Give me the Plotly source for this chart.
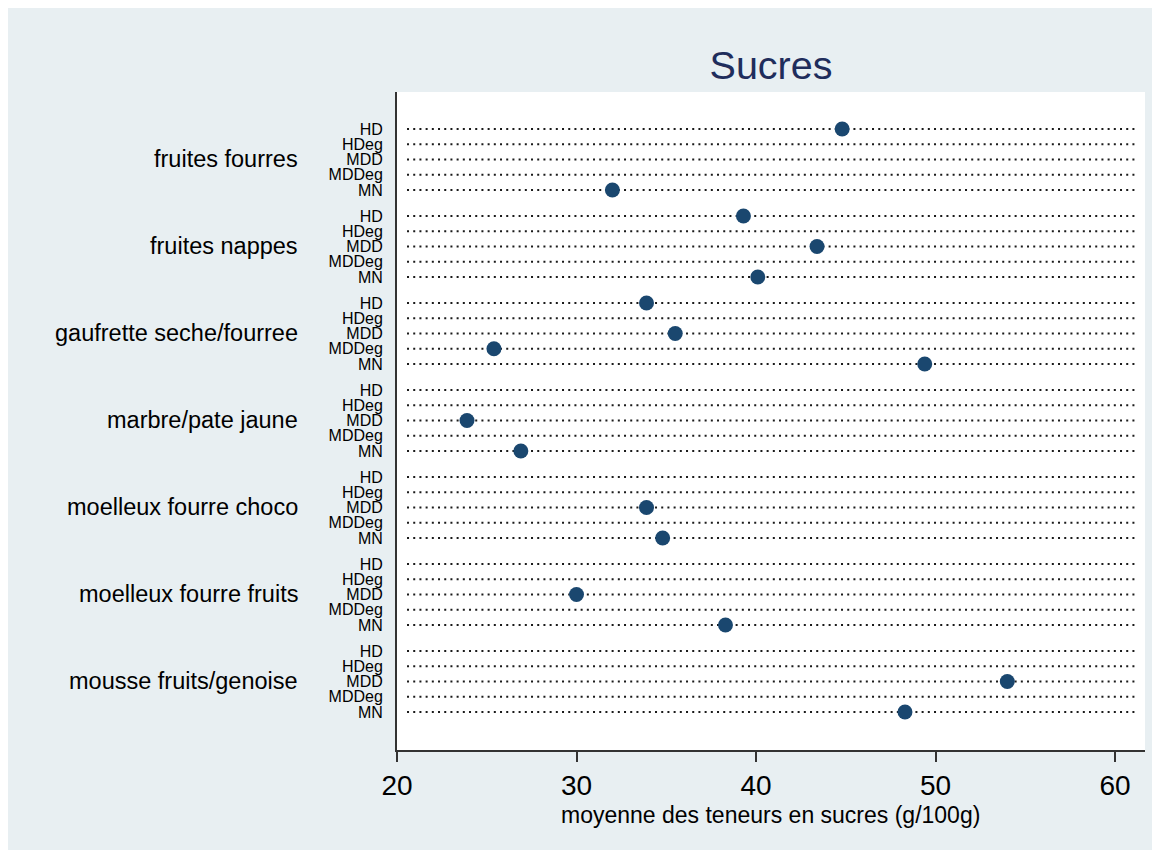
import plotly.graph_objects as go

# ---- data ----
groups = ["fruites fourres", "fruites nappes", "gaufrette seche/fourree",
          "marbre/pate jaune", "moelleux fourre choco", "moelleux fourre fruits",
          "mousse fruits/genoise"]
series = ["HD", "HDeg", "MDD", "MDDeg", "MN"]
# mean sugar content (g/100g); None = no value
values = {
    "fruites fourres":        [44.8, None, None, None, 32.0],
    "fruites nappes":         [39.3, None, 43.4, None, 40.1],
    "gaufrette seche/fourree": [33.9, None, 35.5, 25.4, 49.4],
    "marbre/pate jaune":      [None, None, 23.9, None, 26.9],
    "moelleux fourre choco":  [None, None, 33.9, None, 34.8],
    "moelleux fourre fruits": [None, None, 30.0, None, 38.3],
    "mousse fruits/genoise":  [None, None, 54.0, None, 48.3],
}
x_ticks = [20, 30, 40, 50, 60]
title_text = "Sucres"
x_title = "moyenne des teneurs en sucres (g/100g)"

# ---- layout helpers ----
GROUP_STEP = 5.7
pos, ticktext, xs, ys = [], [], [], []
for g, grp in enumerate(groups):
    for i, s in enumerate(series):
        p = g * GROUP_STEP + i
        pos.append(p)
        ticktext.append(s)
        v = values[grp][i]
        if v is not None:
            xs.append(v)
            ys.append(p)

span = (len(groups) - 1) * GROUP_STEP + len(series) - 1
FONT = "Liberation Sans, Arial, Helvetica, sans-serif"
NAVY = "#1a476f"

fig = go.Figure()
fig.add_trace(go.Scatter(
    x=xs, y=ys, mode="markers",
    marker=dict(color=NAVY, size=15, line=dict(width=0)),
    showlegend=False, hoverinfo="x+y",
))

shapes = []
# dotted guide lines for every row
for p in pos:
    shapes.append(dict(type="line", xref="paper", yref="y",
                       x0=0.0134, x1=0.9906, y0=p, y1=p,
                       line=dict(color="#1a1a1a", width=2, dash="2px,4.2px"),
                       layer="below"))

annotations = []
for g, grp in enumerate(groups):
    annotations.append(dict(
        text=grp, xref="paper", yref="y",
        x=(300 - 397) / 748, y=g * GROUP_STEP + 2,
        xanchor="right", yanchor="middle", showarrow=False,
        font=dict(family=FONT, size=23.5, color="black"),
    ))
annotations.append(dict(
    text=x_title, xref="paper", yref="paper",
    x=(770 - 397) / 748, y=(750 - 815) / 658,
    xanchor="center", yanchor="middle", showarrow=False,
    font=dict(family=FONT, size=23, color="black"),
))

fig.update_layout(
    width=1160, height=850,
    margin=dict(l=389, r=23, t=84, b=108, autoexpand=False),
    paper_bgcolor="#e8eff2",
    plot_bgcolor="white",
    title=dict(text=title_text, x=0.5, xref="paper", y=1 - 57 / 850,
               yanchor="middle", xanchor="center",
               font=dict(family=FONT, size=39.5, color="#1f2d5c")),
    xaxis=dict(range=[20, 20 + 748 / 17.95], tickvals=x_ticks,
               showgrid=False, zeroline=False,
               showline=True, linecolor="#333333", linewidth=1.5,
               ticks="outside", ticklen=10, tickwidth=1.5, tickcolor="#333333",
               tickfont=dict(family=FONT, size=28, color="black"),
               ticklabelstandoff=0, automargin=False),
    yaxis=dict(range=[span + 2.49, -2.42], tickvals=pos, ticktext=ticktext,
               showgrid=False, zeroline=False,
               showline=True, linecolor="#333333", linewidth=2,
               ticks="", ticklabelstandoff=9,
               tickfont=dict(family=FONT, size=16, color="black"),
               automargin=False),
    shapes=shapes,
    annotations=annotations,
    font=dict(family=FONT),
)

fig.write_html("out.html")
